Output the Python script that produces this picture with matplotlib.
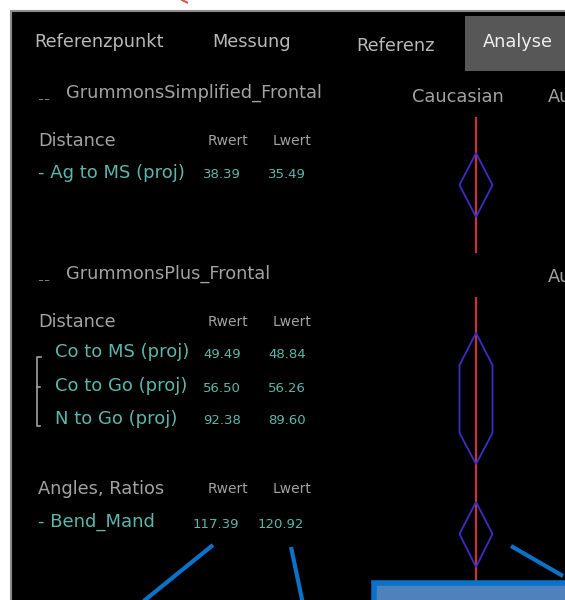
import matplotlib
matplotlib.use("Agg")
import matplotlib.pyplot as plt
from matplotlib.patches import Rectangle, Polygon

matplotlib.rcParams["font.family"] = "DejaVu Sans"

# --- screen content ---------------------------------------------------------
TABS = ["Referenzpunkt", "Messung", "Referenz", "Analyse"]
ACTIVE_TAB = "Analyse"
POPULATIONS = ["Caucasian", "Au"]

GROUP_1 = "GrummonsSimplified_Frontal"
G1_NAMES = ["Ag to MS (proj)"]
G1_RWERT = [38.39]
G1_LWERT = [35.49]

GROUP_2 = "GrummonsPlus_Frontal"
G2_NAMES = ["Co to MS (proj)", "Co to Go (proj)", "N to Go (proj)"]
G2_RWERT = [49.49, 56.50, 92.38]
G2_LWERT = [48.84, 56.26, 89.60]

ANGLE_NAMES = ["Bend_Mand"]
ANGLE_RWERT = [117.39]
ANGLE_LWERT = [120.92]

# --- style ------------------------------------------------------------------
GRAY = "#a2a2a2"
TAB_GRAY = "#b8b8b8"
TEAL = "#5cb6ab"
RED = "#c8323c"
GLYPH_BLUE = "#3a2fc4"
CALLOUT = "#0a72c8"
LABEL_FS = 12.8
NAME_FS = 13
HEAD_FS = 10
VAL_FS = 9.5
W, H = 565, 600

fig = plt.figure(figsize=(W / 100, H / 100), dpi=100)
fig.patch.set_facecolor("white")
ax = fig.add_axes([0, 0, 1, 1])
ax.set_xlim(0, W)
ax.set_ylim(H, 0)
ax.axis("off")

# panel + active tab
ax.add_patch(Rectangle((11, 11), 600, 600, facecolor="black",
                       edgecolor="#8c8c8c", lw=1.5, zorder=0))
ax.add_patch(Rectangle((465, 16), 110, 55, facecolor="#575757",
                       edgecolor="none", zorder=1))
ax.plot([182, 187], [0, 2.5], color="#e05050", lw=1.5, zorder=1)


def txt(x, y, s, color=GRAY, size=LABEL_FS):
    ax.text(x, y, s, color=color, fontsize=size, ha="left", va="center",
            zorder=3)


# tabs
tab_x = [34, 212, 356, 483]
tab_y = [42, 42, 46, 42]
for x, y, t in zip(tab_x, tab_y, TABS):
    txt(x, y, t, "#eeeeee" if t == ACTIVE_TAB else TAB_GRAY, LABEL_FS)

# population headers (the second column is cut off by the screen edge)
txt(412, 97, POPULATIONS[0])
txt(548, 97, POPULATIONS[1])
txt(548, 277, POPULATIONS[1])

R_X, L_X = 203, 268


def header(y, label):
    txt(38, y, label)
    txt(R_X + 5, y, "Rwert", GRAY, HEAD_FS)
    txt(L_X + 5, y, "Lwert", GRAY, HEAD_FS)


def rows(ys, names, rv, lv, x0, prefix):
    for y, n, r, l in zip(ys, names, rv, lv):
        txt(x0, y, prefix + n, TEAL, NAME_FS)
        txt(R_X + (-10 if r >= 100 else 0), y + 2, f"{r:.2f}", TEAL, VAL_FS)
        txt(L_X + (-10 if l >= 100 else 0), y + 2, f"{l:.2f}", TEAL, VAL_FS)


def group_title(y, name):
    txt(38, y + 3, "_", GRAY, 6)
    txt(44, y + 3, "_", GRAY, 6)
    txt(66, y, name)


# group 1
group_title(93, GROUP_1)
header(141, "Distance")
rows([173], G1_NAMES, G1_RWERT, G1_LWERT, 38, "- ")

# group 2
group_title(274, GROUP_2)
header(322, "Distance")
rows([352, 386, 419], G2_NAMES, G2_RWERT, G2_LWERT, 55, "")
ax.plot([41, 36.5, 36.5, 40], [357, 357, 426, 426], color=GRAY, lw=1.2)
ax.plot([36.5, 40], [387, 387], color=GRAY, lw=1.2)

header(489, "Angles, Ratios")
rows([522], ANGLE_NAMES, ANGLE_RWERT, ANGLE_LWERT, 38, "- ")

# analysis column: red reference line with blue range glyphs
cx, hw = 476, 16.5
ax.plot([cx, cx], [118, 252], color=RED, lw=1.6, zorder=2)
ax.plot([cx, cx], [298, 580], color=RED, lw=1.6, zorder=2)
glyphs = [
    [(cx, 153), (cx + hw, 185), (cx, 217), (cx - hw, 185)],
    [(cx, 333), (cx + hw, 365), (cx + hw, 433), (cx, 464),
     (cx - hw, 433), (cx - hw, 365)],
    [(cx, 502), (cx + hw, 534), (cx, 567), (cx - hw, 534)],
]
for g in glyphs:
    ax.add_patch(Polygon(g, closed=True, fill=False, edgecolor=GLYPH_BLUE,
                         lw=1.3, zorder=2))

# callout lines and box
for (x0, y0), (x1, y1) in [((213, 545), (140, 604)),
                           ((291, 547), (303, 604)),
                           ((511, 546), (563, 576))]:
    ax.plot([x0, x1], [y0, y1], color=CALLOUT, lw=3, solid_capstyle="butt",
            zorder=4)
ax.add_patch(Rectangle((374, 583), 200, 30, facecolor="#4f81bd",
                       edgecolor=CALLOUT, lw=4, zorder=4))

fig.savefig("out.png", dpi=100, facecolor="white")
